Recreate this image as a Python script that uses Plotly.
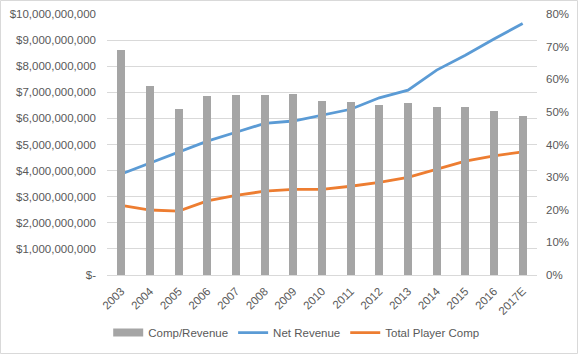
import plotly.graph_objects as go

years = ["2003", "2004", "2005", "2006", "2007", "2008", "2009", "2010",
         "2011", "2012", "2013", "2014", "2015", "2016", "2017E"]
comp_revenue = [0.690, 0.579, 0.509, 0.549, 0.552, 0.552, 0.555, 0.533,
                0.530, 0.521, 0.527, 0.515, 0.515, 0.503, 0.487]
net_revenue = [3.87e9, 4.30e9, 4.72e9, 5.13e9, 5.47e9, 5.81e9, 5.90e9, 6.12e9,
               6.35e9, 6.79e9, 7.08e9, 7.85e9, 8.42e9, 9.04e9, 9.64e9]
player_comp = [2.67e9, 2.49e9, 2.45e9, 2.84e9, 3.05e9, 3.21e9, 3.28e9, 3.28e9,
               3.40e9, 3.55e9, 3.74e9, 4.05e9, 4.36e9, 4.56e9, 4.72e9]

left_tickvals = [i * 1e9 for i in range(11)]
left_ticktext = ["$-"] + ["${:,}".format(int(v)) for v in left_tickvals[1:]]
right_tickvals = [i / 10 for i in range(9)]
right_ticktext = ["{}%".format(i * 10) for i in range(9)]

W, H = 578, 354
ML, MR, MT, MB = 107, 41, 14, 79
PW, PH = W - ML - MR, H - MT - MB

FAM = "Liberation Sans, Arial, sans-serif"
font = dict(family=FAM, size=11.5, color="#595959")

fig = go.Figure()
fig.add_trace(go.Bar(x=years, y=comp_revenue, name="Comp/Revenue",
                     marker=dict(color="#A5A5A5", line=dict(width=0)),
                     yaxis="y2", width=0.29, showlegend=False))
# legend swatch for the bars (wide rectangle as in the original)
fig.add_trace(go.Scatter(x=[years[0]], y=[None], name="Comp/Revenue", mode="lines",
                         line=dict(color="#A5A5A5", width=8), yaxis="y2"))
fig.add_trace(go.Scatter(x=years, y=net_revenue, name="Net Revenue", mode="lines",
                         line=dict(color="#5B9BD5", width=2.8)))
fig.add_trace(go.Scatter(x=years, y=player_comp, name="Total Player Comp", mode="lines",
                         line=dict(color="#ED7D31", width=2.8)))

fig.update_layout(
    width=W, height=H,
    margin=dict(l=ML, r=MR, t=MT, b=MB, autoexpand=False),
    paper_bgcolor="white", plot_bgcolor="white",
    font=font,
    showlegend=True,
    legend=dict(orientation="h", x=0.44, xanchor="center", y=-0.165, yanchor="top",
                font=dict(family=FAM, size=11.5, color="#595959"),
                traceorder="normal", itemwidth=30, tracegroupgap=0),
    xaxis=dict(type="category", tickangle=-45, showgrid=False, automargin=False,
               showline=True, linecolor="#D9D9D9", linewidth=1,
               ticks="", tickfont=font, ticklabelstandoff=4),
    yaxis=dict(range=[0, 1e10], tickvals=left_tickvals, ticktext=left_ticktext,
               showgrid=True, gridcolor="#D9D9D9", gridwidth=1, automargin=False,
               zeroline=False, showline=False, ticks="", tickfont=font,
               ticklabelstandoff=10),
    yaxis2=dict(range=[0, 0.8], tickvals=right_tickvals, ticktext=right_ticktext,
                overlaying="y", side="right", showgrid=False, zeroline=False,
                automargin=False,
                showline=False, ticks="", tickfont=font, ticklabelstandoff=8),
    bargap=0.0,
    shapes=[dict(type="rect", xref="paper", yref="paper",
                 x0=(-ML + 0.5) / PW, x1=(PW + MR - 0.5) / PW,
                 y0=(-MB + 0.5) / PH, y1=(PH + MT - 0.5) / PH,
                 line=dict(color="#D9D9D9", width=1), layer="below")],
)

fig.write_html("out.html")
